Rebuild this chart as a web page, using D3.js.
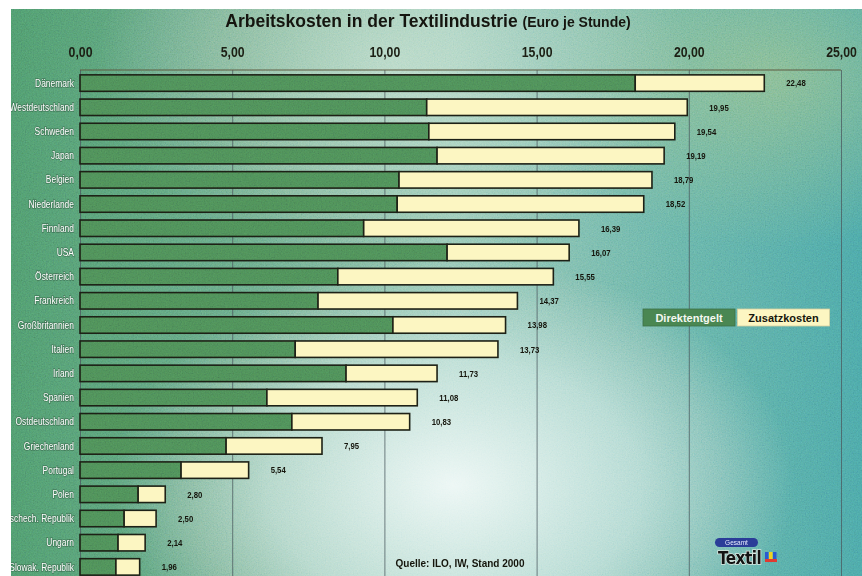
<!DOCTYPE html>
<html>
<head>
<meta charset="utf-8">
<script src="https://cdn.jsdelivr.net/npm/d3@7"></script>
<style>
	body { margin: 0; background: #fff; }
	#chart-area { width: 862px; height: 576px; }
	.country-label { font-family: "Liberation Sans", Arial, sans-serif; font-size: 10.3px; fill: #fff; }
	.value-label { font-family: "Liberation Sans", Arial, sans-serif; font-size: 9.5px; font-weight: bold; fill: #15150c; }
	.x-axis text { font-family: "Liberation Sans", Arial, sans-serif; font-size: 15px; font-weight: bold; fill: #1c1f14; }
</style>
</head>
<body>
<div id="chart-area"></div>
<script>

// Arbeitskosten je Stunde in Euro, Stand 2000
const countries = ["Dänemark", "Westdeutschland", "Schweden", "Japan", "Belgien", "Niederlande", "Finnland",
	"USA", "Österreich", "Frankreich", "Großbritannien", "Italien", "Irland", "Spanien", "Ostdeutschland",
	"Griechenland", "Portugal", "Polen", "Tschech. Republik", "Ungarn", "Slowak. Republik"];
const direktentgelt = [18.24, 11.39, 11.46, 11.73, 10.48, 10.42, 9.32, 12.06, 8.47, 7.82, 10.28, 7.07, 8.74,
	6.14, 6.96, 4.80, 3.32, 1.91, 1.45, 1.25, 1.18];
const zusatzkosten = [4.24, 8.56, 8.08, 7.46, 8.31, 8.10, 7.07, 4.01, 7.08, 6.55, 3.70, 6.66, 2.99,
	4.94, 3.87, 3.15, 2.22, 0.89, 1.05, 0.89, 0.78];
const seriesNames = ["Direktentgelt", "Zusatzkosten"];
const xTicks = [0, 5, 10, 15, 20, 25];

// the print uses a condensed face, no narrow font here so squeeze the regular one
const NARROW = 0.82;


class CostBars {

	constructor(parentElement) {
		this.parentElement = parentElement;
		this.initVis();
	}

	initVis() {
		let vis = this;

		vis.width = 862;
		vis.height = 576;
		vis.plot = {left: 80, right: 841, top: 70, bottom: 579};

		vis.svg = d3.select("#" + vis.parentElement).append("svg")
			.attr("width", vis.width)
			.attr("height", vis.height);

		let defs = vis.svg.append("defs");

		// background gradients
		let base = defs.append("linearGradient").attr("id", "bg-base");
		[["0%", "#4a9264"], ["28%", "#64a47e"], ["52%", "#8cc2ac"], ["78%", "#62ae9e"], ["100%", "#47a09d"]]
			.forEach(s => base.append("stop").attr("offset", s[0]).attr("stop-color", s[1]));

		let glow = defs.append("radialGradient").attr("id", "bg-glow")
			.attr("cx", "0.52").attr("cy", "0.84").attr("r", "0.4");
		glow.append("stop").attr("offset", "0%").attr("stop-color", "#eef8f6").attr("stop-opacity", 0.97);
		glow.append("stop").attr("offset", "55%").attr("stop-color", "#d2ebe6").attr("stop-opacity", 0.65);
		glow.append("stop").attr("offset", "100%").attr("stop-color", "#c0e0d8").attr("stop-opacity", 0);

		let topGlow = defs.append("radialGradient").attr("id", "bg-top")
			.attr("cx", "0.45").attr("cy", "0.1").attr("r", "0.35");
		topGlow.append("stop").attr("offset", "0%").attr("stop-color", "#c8e2d0").attr("stop-opacity", 0.7);
		topGlow.append("stop").attr("offset", "100%").attr("stop-color", "#c8e2d0").attr("stop-opacity", 0);

		let rightGlow = defs.append("radialGradient").attr("id", "bg-right")
			.attr("cx", "0.9").attr("cy", "0.12").attr("r", "0.3");
		rightGlow.append("stop").attr("offset", "0%").attr("stop-color", "#9cc27a").attr("stop-opacity", 0.6);
		rightGlow.append("stop").attr("offset", "100%").attr("stop-color", "#9cc27a").attr("stop-opacity", 0);

		// paper grain
		let grain = defs.append("filter").attr("id", "grain")
			.attr("x", 0).attr("y", 0).attr("width", 1).attr("height", 1);
		grain.append("feTurbulence")
			.attr("type", "fractalNoise")
			.attr("baseFrequency", "0.75")
			.attr("numOctaves", 2)
			.attr("seed", 7);
		grain.append("feColorMatrix")
			.attr("type", "matrix")
			.attr("values", "0.6 0.3 0 0 0  0.3 0.6 0 0 0  0.2 0.3 0.5 0 0  0 0 0 0 0.35");

		defs.append("clipPath").attr("id", "panel-clip")
			.append("rect")
			.attr("x", 11).attr("y", 9)
			.attr("width", vis.width - 11).attr("height", vis.height - 9);

		vis.panel = vis.svg.append("g").attr("clip-path", "url(#panel-clip)");

		["url(#bg-base)", "url(#bg-right)", "url(#bg-top)", "url(#bg-glow)"].forEach(f => {
			vis.panel.append("rect")
				.attr("x", 11).attr("y", 9)
				.attr("width", vis.width - 11).attr("height", vis.height - 9)
				.attr("fill", f);
		});
		vis.panel.append("rect")
			.attr("x", 11).attr("y", 9)
			.attr("width", vis.width - 11).attr("height", vis.height - 9)
			.attr("filter", "url(#grain)")
			.style("mix-blend-mode", "overlay");

		// Title
		let title = vis.panel.append("text")
			.attr("x", 428)
			.attr("y", 27)
			.attr("text-anchor", "middle")
			.style("font-family", "'Liberation Sans', Arial, sans-serif")
			.style("font-weight", "bold")
			.attr("fill", "#15150f");
		title.append("tspan").style("font-size", "17.5px").text("Arbeitskosten in der Textilindustrie ");
		title.append("tspan").style("font-size", "14px").text("(Euro je Stunde)");

		// Scales
		vis.x = d3.scaleLinear()
			.domain([0, 25])
			.range([vis.plot.left, vis.plot.right]);
		vis.y = d3.scaleBand()
			.domain(countries)
			.range([vis.plot.top + 1, vis.plot.bottom])
			.paddingInner(0.32)
			.paddingOuter(0.16);

		let comma = d3.formatLocale({decimal: ",", thousands: ".", grouping: [3], currency: ["", " €"]});
		vis.fmt = comma.format(".2f");

		vis.xAxis = d3.axisTop(vis.x)
			.tickValues(xTicks)
			.tickFormat(vis.fmt)
			.tickSize(-(vis.height - vis.plot.top))
			.tickPadding(13);

		vis.wrangleData();
	}

	wrangleData() {
		let vis = this;

		vis.displayData = countries.map((c, i) => ({
			country: c,
			Direktentgelt: direktentgelt[i],
			Zusatzkosten: zusatzkosten[i],
			total: direktentgelt[i] + zusatzkosten[i]
		}));

		vis.stackData = d3.stack().keys(seriesNames)(vis.displayData);

		vis.updateVis();
	}

	updateVis() {
		let vis = this;

		// grid + tick labels
		let axisG = vis.panel.append("g")
			.attr("class", "x-axis")
			.attr("transform", `translate(0, ${vis.plot.top})`)
			.call(vis.xAxis);
		axisG.select(".domain").remove();
		axisG.selectAll(".tick line")
			.attr("stroke", "#4b5a5e")
			.attr("stroke-width", 0.9)
			.attr("opacity", 0.85);
		axisG.selectAll(".tick text")
			.attr("transform", `scale(${NARROW}, 1)`);

		// frame top
		vis.panel.append("line")
			.attr("x1", vis.plot.left).attr("x2", vis.plot.right)
			.attr("y1", vis.plot.top).attr("y2", vis.plot.top)
			.attr("stroke", "#5e5a40")
			.attr("stroke-width", 1);

		let color = d3.scaleOrdinal()
			.domain(seriesNames)
			.range(["#4a8752", "#fcf6c2"]);

		vis.stackData.forEach(layer => {
			vis.panel.append("g")
				.attr("class", "layer")
				.selectAll("rect")
				.data(layer)
				.enter().append("rect")
				.attr("x", d => vis.x(d[0]))
				.attr("y", d => vis.y(d.data.country))
				.attr("width", d => vis.x(d[1]) - vis.x(d[0]))
				.attr("height", vis.y.bandwidth())
				.attr("fill", color(layer.key))
				.attr("stroke", "#1d2116")
				.attr("stroke-width", 1.6);
		});

		// a little grain on the green bars
		vis.panel.append("g")
			.selectAll("rect")
			.data(vis.stackData[0])
			.enter().append("rect")
			.attr("x", d => vis.x(d[0]) + 1)
			.attr("y", d => vis.y(d.data.country) + 1)
			.attr("width", d => vis.x(d[1]) - vis.x(d[0]) - 2)
			.attr("height", vis.y.bandwidth() - 2)
			.attr("filter", "url(#grain)")
			.style("mix-blend-mode", "overlay")
			.attr("opacity", 0.8);

		// country labels
		vis.panel.append("g")
			.selectAll("text")
			.data(vis.displayData)
			.enter().append("text")
			.attr("class", "country-label")
			.attr("transform", d => `translate(${vis.plot.left - 6}, ${vis.y(d.country) + vis.y.bandwidth() / 2}) scale(${NARROW}, 1)`)
			.attr("dy", "0.35em")
			.attr("text-anchor", "end")
			.style("paint-order", "stroke")
			.style("stroke", "rgba(40,70,50,0.45)")
			.style("stroke-width", "1.5px")
			.text(d => d.country);

		// totals
		vis.panel.append("g")
			.selectAll("text")
			.data(vis.displayData)
			.enter().append("text")
			.attr("class", "value-label")
			.attr("transform", d => `translate(${vis.x(d.total) + 22}, ${vis.y(d.country) + vis.y.bandwidth() / 2}) scale(${NARROW}, 1)`)
			.attr("dy", "0.35em")
			.text(d => vis.fmt(d.total));

		// legend
		let legend = vis.panel.append("g").attr("class", "legend")
			.attr("transform", "translate(643, 309)");
		let legendWidths = [92, 92];
		seriesNames.forEach((name, i) => {
			let g = legend.append("g").attr("transform", `translate(${i * 94.5}, 0)`);
			g.append("rect")
				.attr("width", legendWidths[i])
				.attr("height", 17)
				.attr("fill", color(name))
				.attr("stroke", i === 0 ? "#3d7048" : "#d8d0a0")
				.attr("stroke-width", 0.8);
			g.append("text")
				.attr("x", legendWidths[i] / 2)
				.attr("y", 12.5)
				.attr("text-anchor", "middle")
				.style("font-family", "'Liberation Sans', Arial, sans-serif")
				.style("font-size", "11px")
				.style("font-weight", "bold")
				.attr("fill", i === 0 ? "#f4f8f0" : "#15150c")
				.text(name);
		});

		// source
		vis.panel.append("text")
			.attr("x", 460)
			.attr("y", 567)
			.attr("text-anchor", "middle")
			.style("font-family", "'Liberation Sans', Arial, sans-serif")
			.style("font-size", "10px")
			.style("font-weight", "bold")
			.attr("fill", "#15150c")
			.text("Quelle: ILO, IW, Stand 2000");

		// logo
		let logo = vis.panel.append("g").attr("transform", "translate(715, 538)");
		logo.append("rect")
			.attr("width", 43).attr("height", 9).attr("rx", 4.5)
			.attr("fill", "#2b3d98");
		logo.append("text")
			.attr("x", 21.5).attr("y", 7)
			.attr("text-anchor", "middle")
			.style("font-family", "'Liberation Sans', Arial, sans-serif")
			.style("font-size", "6.5px")
			.attr("fill", "#e8ecff")
			.text("Gesamt");
		logo.append("text")
			.attr("x", 3).attr("y", 26)
			.style("font-family", "'DejaVu Sans Condensed', 'DejaVu Sans', sans-serif")
			.style("font-size", "17px")
			.style("font-weight", "bold")
			.style("letter-spacing", "-0.5px")
			.style("paint-order", "stroke")
			.style("stroke", "#d8e6e0")
			.style("stroke-width", "1.5px")
			.attr("fill", "#121212")
			.text("Textil");
		[["#2a5ad0", 50, 14, 3.5, 7], ["#f0d020", 54, 14, 3.5, 7], ["#2a5ad0", 58, 14, 3.5, 7], ["#e03a30", 50, 21, 12, 3]]
			.forEach(s => {
				logo.append("rect")
					.attr("x", s[1]).attr("y", s[2])
					.attr("width", s[3]).attr("height", s[4])
					.attr("fill", s[0]);
			});
	}
}

new CostBars("chart-area");

</script>
</body>
</html>
